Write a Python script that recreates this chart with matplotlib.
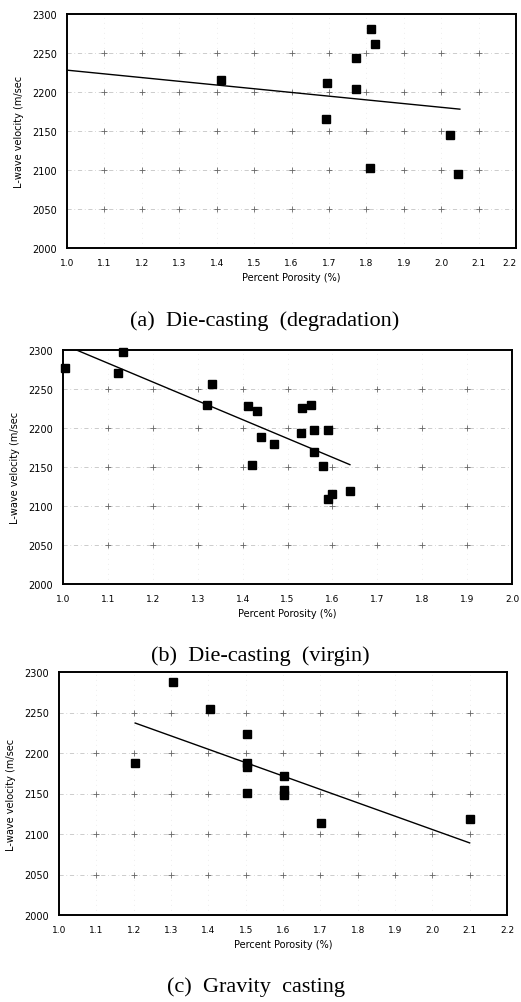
import numpy as np
import matplotlib
matplotlib.use("Agg")
import matplotlib.pyplot as plt

# ---------------- data ----------------
# (a) Die-casting (degradation)
a_x = [1.412, 1.694, 1.693, 1.772, 1.772, 1.813, 1.823, 1.809, 2.023, 2.044]
a_y = [2216, 2212, 2165, 2243, 2204, 2281, 2261, 2102, 2145, 2095]
a_fit_x = [1.00, 2.05]
a_fit_y = [2228, 2178]
a_xticks = [1.0, 1.1, 1.2, 1.3, 1.4, 1.5, 1.6, 1.7, 1.8, 1.9, 2.0, 2.1, 2.2]

# (b) Die-casting (virgin)
b_x = [1.004, 1.133, 1.122, 1.332, 1.321, 1.411, 1.431, 1.440, 1.470, 1.420,
       1.532, 1.552, 1.530, 1.560, 1.590, 1.559, 1.579, 1.590, 1.599, 1.640]
b_y = [2277, 2298, 2270, 2257, 2230, 2228, 2222, 2189, 2179, 2153,
       2226, 2230, 2194, 2198, 2198, 2169, 2151, 2109, 2116, 2119]
b_fit_x = [1.030, 1.639]
b_fit_y = [2300, 2153]
b_xticks = [1.0, 1.1, 1.2, 1.3, 1.4, 1.5, 1.6, 1.7, 1.8, 1.9, 2.0]

# (c) Gravity casting
c_x = [1.204, 1.305, 1.404, 1.504, 1.504, 1.504, 1.503, 1.604, 1.604, 1.604, 1.702, 2.101]
c_y = [2188, 2288, 2254, 2224, 2188, 2183, 2151, 2172, 2154, 2148, 2114, 2118]
c_fit_x = [1.204, 2.100]
c_fit_y = [2237, 2089]
c_xticks = [1.0, 1.1, 1.2, 1.3, 1.4, 1.5, 1.6, 1.7, 1.8, 1.9, 2.0, 2.1, 2.2]

yticks = [2000, 2050, 2100, 2150, 2200, 2250, 2300]

captions = ["(a)  Die-casting  (degradation)",
            "(b)  Die-casting  (virgin)",
            "(c)  Gravity  casting"]
xlabel = "Percent Porosity (%)"
ylabel = "L-wave velocity (m/sec"

# ---------------- figure ----------------
W, H = 521, 1003
fig = plt.figure(figsize=(W / 100, H / 100), dpi=100)


def px_axes(left, top, right, bottom):
    return fig.add_axes([left / W, 1 - bottom / H, (right - left) / W, (bottom - top) / H])


panels = [
    (px_axes(67, 15, 516, 249), a_x, a_y, a_fit_x, a_fit_y, a_xticks, (265, 321)),
    (px_axes(63, 351, 512, 585), b_x, b_y, b_fit_x, b_fit_y, b_xticks, (260, 656)),
    (px_axes(59, 673, 507, 916), c_x, c_y, c_fit_x, c_fit_y, c_xticks, (256, 987)),
]

for i, (ax, xs, ys, fx, fy, xt, cap) in enumerate(panels):
    ax.set_xlim(xt[0], xt[-1])
    ax.set_ylim(yticks[0], yticks[-1])
    ax.set_xticks(xt)
    ax.set_yticks(yticks)
    labels = ax.set_xticklabels([f"{v:.1f}" for v in xt], fontsize=6.5)
    if i == 0:
        labels[-1].set_horizontalalignment("right")
    ax.set_yticklabels([str(v) for v in yticks], fontsize=7)
    ax.tick_params(length=0, pad=7)
    # faint dash-dot grid with + marks at intersections
    for yv in yticks[1:-1]:
        ax.axhline(yv, color="#888888", lw=0.5, ls=(0, (6, 4, 1, 4)), alpha=0.6, zorder=1)
    for xv in xt[1:-1]:
        ax.axvline(xv, color="#aaaaaa", lw=0.4, ls=(0, (1, 8)), alpha=0.6, zorder=1)
    gx, gy = np.meshgrid(xt[1:-1], yticks[1:-1])
    ax.plot(gx.ravel(), gy.ravel(), ls="none", marker="+", ms=4, mew=0.6,
            color="#666666", zorder=1)
    ax.plot(fx, fy, color="black", lw=1.0, zorder=2)
    ax.plot(xs, ys, ls="none", marker="s", ms=5.5, color="black", zorder=3,
            clip_on=False)
    for s in ax.spines.values():
        s.set_linewidth(1.4)
        s.set_color("black")
    ax.set_xlabel(xlabel, fontsize=7, labelpad=4)
    ax.set_ylabel(ylabel, fontsize=7, labelpad=6)
    fig.text(cap[0] / W, 1 - cap[1] / H, captions[i], ha="center", va="center",
             fontsize=16, family="Liberation Serif")

fig.savefig("out.png", dpi=100)
